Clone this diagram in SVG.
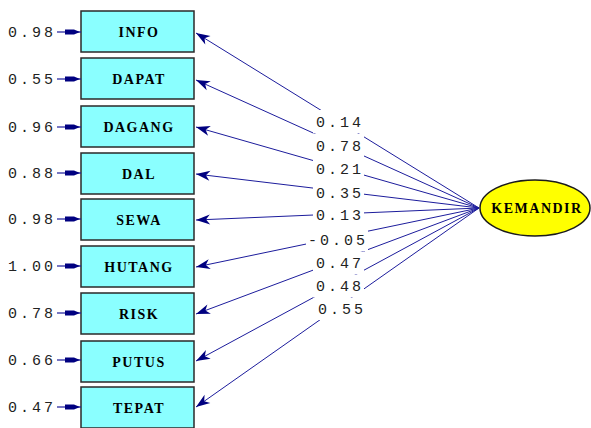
<svg xmlns="http://www.w3.org/2000/svg" xmlns:xlink="http://www.w3.org/1999/xlink" width="591" height="428" viewBox="0 0 591 428">
<style>
.box{fill:#8affff;stroke:#2a2a2a;stroke-width:1.5}
.lbl{font-family:"Liberation Serif",serif;font-weight:bold;font-size:14px;letter-spacing:1.5px;fill:#000;text-anchor:middle}
.num{font-family:"Liberation Mono",monospace;font-size:15px;letter-spacing:3px;fill:#222}
.conn{stroke:#1c1c9c;stroke-width:1;fill:none}
.err{stroke:#1c1c9c;stroke-width:1.2;fill:none}
.bg{fill:#fff}
</style>
<defs>
<marker id="ah" markerUnits="userSpaceOnUse" markerWidth="16" markerHeight="12" viewBox="-15 -6 16 12" refX="0" refY="0" orient="auto">
<path d="M0,0 L-14,-5 L-10,0 L-14,5 Z" fill="#000080"/>
</marker>
<marker id="eh" markerUnits="userSpaceOnUse" markerWidth="20" markerHeight="8" viewBox="-18 -4 20 8" refX="0" refY="0" orient="auto">
<path d="M-1,0 L-7,-2.5 L-16,-2.5 L-16,2.5 L-7,2.5 Z" fill="#000080"/>
</marker>
</defs>

<g id="connectors">
<line class="conn" x1="479" y1="208" x2="196" y2="33" marker-end="url(#ah)"/>
<line class="conn" x1="479" y1="208" x2="196" y2="80" marker-end="url(#ah)"/>
<line class="conn" x1="479" y1="208" x2="196" y2="127" marker-end="url(#ah)"/>
<line class="conn" x1="479" y1="208" x2="196" y2="174" marker-end="url(#ah)"/>
<line class="conn" x1="479" y1="208" x2="196" y2="220" marker-end="url(#ah)"/>
<line class="conn" x1="479" y1="208" x2="196" y2="267" marker-end="url(#ah)"/>
<line class="conn" x1="479" y1="208" x2="196" y2="314" marker-end="url(#ah)"/>
<line class="conn" x1="479" y1="208" x2="196" y2="361" marker-end="url(#ah)"/>
<line class="conn" x1="479" y1="208" x2="196" y2="407" marker-end="url(#ah)"/>
<g id="path-labels">
<rect class="bg" x="313" y="110" width="51" height="23.5"/>
<rect class="bg" x="313" y="134" width="51" height="23"/>
<rect class="bg" x="313" y="157.5" width="51" height="23.5"/>
<rect class="bg" x="313" y="181" width="51" height="23"/>
<rect class="bg" x="313" y="204" width="51" height="23"/>
<rect class="bg" x="306" y="228" width="62" height="23"/>
<rect class="bg" x="313" y="251.5" width="51" height="23"/>
<rect class="bg" x="313" y="275" width="51" height="22.5"/>
<rect class="bg" x="315" y="298" width="51" height="22"/>
<text class="num" x="316" y="127">0.14</text>
<text class="num" x="316" y="151">0.78</text>
<text class="num" x="316" y="174">0.21</text>
<text class="num" x="316" y="198">0.35</text>
<text class="num" x="316" y="220">0.13</text>
<text class="num" x="308" y="245">-0.05</text>
<text class="num" x="316" y="268">0.47</text>
<text class="num" x="316" y="291">0.48</text>
<text class="num" x="318" y="314">0.55</text>
</g>
</g>

<g id="INFO">
<rect class="box" x="81" y="11" width="113" height="41"/>
<text class="lbl" x="139" y="37">INFO</text>
<line class="err" x1="57" y1="32" x2="81" y2="32" marker-end="url(#eh)"/>
<text class="num" x="8" y="37">0.98</text>
</g>
<g id="DAPAT">
<rect class="box" x="81" y="58" width="113" height="41"/>
<text class="lbl" x="139" y="84">DAPAT</text>
<line class="err" x1="57" y1="79" x2="81" y2="79" marker-end="url(#eh)"/>
<text class="num" x="8" y="84">0.55</text>
</g>
<g id="DAGANG">
<rect class="box" x="81" y="106" width="113" height="41"/>
<text class="lbl" x="139" y="132">DAGANG</text>
<line class="err" x1="57" y1="127" x2="81" y2="127" marker-end="url(#eh)"/>
<text class="num" x="8" y="132">0.96</text>
</g>
<g id="DAL">
<rect class="box" x="81" y="153" width="113" height="41"/>
<text class="lbl" x="139" y="179">DAL</text>
<line class="err" x1="57" y1="173" x2="81" y2="173" marker-end="url(#eh)"/>
<text class="num" x="8" y="178">0.88</text>
</g>
<g id="SEWA">
<rect class="box" x="81" y="199" width="113" height="41"/>
<text class="lbl" x="139" y="225">SEWA</text>
<line class="err" x1="57" y1="219" x2="81" y2="219" marker-end="url(#eh)"/>
<text class="num" x="8" y="224">0.98</text>
</g>
<g id="HUTANG">
<rect class="box" x="81" y="246" width="113" height="41"/>
<text class="lbl" x="139" y="272">HUTANG</text>
<line class="err" x1="57" y1="266" x2="81" y2="266" marker-end="url(#eh)"/>
<text class="num" x="8" y="271">1.00</text>
</g>
<g id="RISK">
<rect class="box" x="81" y="293" width="113" height="41"/>
<text class="lbl" x="139" y="319">RISK</text>
<line class="err" x1="57" y1="313" x2="81" y2="313" marker-end="url(#eh)"/>
<text class="num" x="8" y="318">0.78</text>
</g>
<g id="PUTUS">
<rect class="box" x="81" y="341" width="113" height="41"/>
<text class="lbl" x="139" y="367">PUTUS</text>
<line class="err" x1="57" y1="360" x2="81" y2="360" marker-end="url(#eh)"/>
<text class="num" x="8" y="365">0.66</text>
</g>
<g id="TEPAT">
<rect class="box" x="81" y="387" width="113" height="41"/>
<text class="lbl" x="139" y="413">TEPAT</text>
<line class="err" x1="57" y1="407" x2="81" y2="407" marker-end="url(#eh)"/>
<text class="num" x="8" y="412">0.47</text>
</g>
<g id="KEMANDIR">
<ellipse cx="535" cy="208" rx="55" ry="28" fill="#ffff00" stroke="#1a1a1a" stroke-width="1.5"/>
<text class="lbl" x="537" y="213" style="letter-spacing:1.5px">KEMANDIR</text>
</g>
</svg>
